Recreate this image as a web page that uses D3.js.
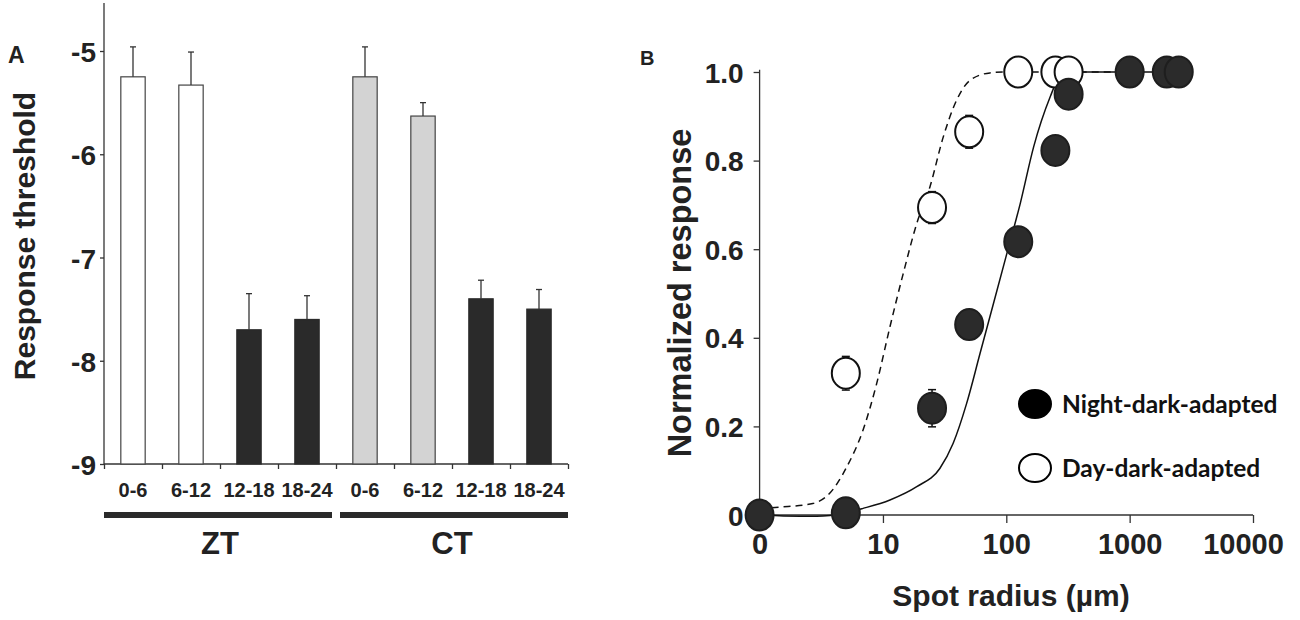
<!DOCTYPE html>
<html lang="en">
<head>
    <meta charset="UTF-8">
    <title>Response threshold and spot radius</title>
    <style>
        body { margin: 0; background: #fff; }
        svg { display: block; font-family: "Liberation Sans", Arial, sans-serif; }
        .axis path, .axis line { stroke: #333; stroke-width: 1.3; }
        .axis text { font-family: "Liberation Sans", Arial, sans-serif; font-weight: bold; fill: #222; }
        .title { font-weight: bold; fill: #222; }
        .legend text { font-family: Lato, "Open Sans", sans-serif; font-weight: bold; fill: #111; }
    </style>
</head>
<body>
    <script src="https://d3js.org/d3.v7.min.js"></script>
    <script>
        // panel A data
        const barLabels = ["0-6", "6-12", "12-18", "18-24", "0-6", "6-12", "12-18", "18-24"];
        const barValues = [-5.25, -5.33, -7.70, -7.60, -5.25, -5.63, -7.40, -7.50];
        const barErrTop = [-4.96, -5.01, -7.35, -7.37, -4.96, -5.50, -7.22, -7.31];
        const barFills = ["#ffffff", "#ffffff", "#2a2a2a", "#2a2a2a", "#d3d3d3", "#d3d3d3", "#2a2a2a", "#2a2a2a"];
        const groups = ["ZT", "CT"];
        const yTicksA = [-5, -6, -7, -8, -9];
        const yTickLabelsA = ["-5", "-6", "-7", "-8", "-9"];

        // panel B data
        const dayX = [5, 25, 50, 125, 250, 320];
        const dayY = [0.32, 0.694, 0.865, 1.0, 1.0, 1.0];
        const dayErr = [0.038, 0.036, 0.037, 0, 0, 0];
        const nightX = [1, 5, 25, 50, 125, 250, 320, 1000, 2000, 2500];
        const nightY = [0, 0.005, 0.241, 0.43, 0.617, 0.823, 0.95, 1.0, 1.0, 1.0];
        const nightErr = [0, 0, 0.042, 0, 0, 0, 0, 0, 0, 0];
        const dayFitX = [1, 1.5, 2.7, 3.7, 5.1, 6.9, 8.9, 11.4, 14.6, 18.8, 24, 30.8, 39.5, 50.7, 73.6, 100, 300, 1000];
        const dayFitY = [0.015, 0.018, 0.026, 0.049, 0.109, 0.192, 0.297, 0.425, 0.545, 0.658, 0.74, 0.853, 0.936, 0.981, 0.998, 1.0, 1.0, 1.0];
        const nightFitX = [1, 1.56, 2.9, 5, 6.9, 11.4, 18.8, 28.9, 37.1, 47.7, 61.3, 78.8, 101, 129.7, 166.6, 227, 270, 320, 2500];
        const nightFitY = [0, -0.002, -0.003, 0.005, 0.015, 0.034, 0.064, 0.105, 0.162, 0.252, 0.365, 0.478, 0.59, 0.703, 0.831, 0.944, 0.99, 1.0, 1.0];
        const xTicksB = [1, 10, 100, 1000, 10000];
        const xTickLabelsB = ["0", "10", "100", "1000", "10000"];
        const yTicksB = [0, 0.2, 0.4, 0.6, 0.8, 1.0];
        const yTickLabelsB = ["0", "0.2", "0.4", "0.6", "0.8", "1.0"];
        const legendLabels = ["Night-dark-adapted", "Day-dark-adapted"];

        const svg = d3.select("body").append("svg")
            .attr("width", 1300)
            .attr("height", 620);

        // ---------- Panel A ----------
        const gA = svg.append("g");

        const yA = d3.scaleLinear().domain([-9, -4.535]).range([464, 3]);
        const xA = d3.scaleBand().domain(d3.range(barLabels.length))
            .range([104, 568]).paddingInner(0.58).paddingOuter(0.29);
        const xEdge = d3.scaleLinear().domain([0, barLabels.length]).range([104, 568]);

        // y axis (tick marks from the axis, labels drawn separately)
        const yAxisA = gA.append("g").attr("class", "axis")
            .attr("transform", "translate(104,0)")
            .call(d3.axisLeft(yA).tickValues(yTicksA).tickSize(4).tickFormat(""));
        yAxisA.select(".domain").attr("d", `M0,${yA(-4.535)}V${yA(-9)}`);
        gA.selectAll("text.ytick")
            .data(yTicksA)
            .join("text")
            .attr("class", "title ytick")
            .attr("x", 96)
            .attr("y", d => yA(d))
            .attr("dy", "0.4em")
            .attr("text-anchor", "end")
            .attr("font-size", 28)
            .text((d, i) => yTickLabelsA[i]);

        // x axis with ticks at category edges
        const xAxisA = gA.append("g").attr("class", "axis")
            .attr("transform", `translate(0,${yA(-9)})`)
            .call(d3.axisBottom(xEdge).tickValues(d3.range(barLabels.length + 1)).tickSize(5).tickFormat(""));
        xAxisA.select(".domain").attr("d", `M${xEdge(0)},0H${xEdge(barLabels.length)}`);

        // bars
        gA.selectAll("rect.bar")
            .data(barValues)
            .join("rect")
            .attr("class", "bar")
            .attr("x", (d, i) => xA(i))
            .attr("width", xA.bandwidth())
            .attr("y", d => yA(d))
            .attr("height", d => yA(-9) - yA(d))
            .attr("fill", (d, i) => barFills[i])
            .attr("stroke", (d, i) => barFills[i] === "#2a2a2a" ? "#2a2a2a" : "#444")
            .attr("stroke-width", 1.2);

        // error bars
        const errA = gA.selectAll("g.err")
            .data(barValues)
            .join("g")
            .attr("class", "err")
            .attr("stroke", "#333")
            .attr("stroke-width", 1.3);
        errA.append("line")
            .attr("x1", (d, i) => xA(i) + xA.bandwidth() / 2)
            .attr("x2", (d, i) => xA(i) + xA.bandwidth() / 2)
            .attr("y1", d => yA(d))
            .attr("y2", (d, i) => yA(barErrTop[i]));
        errA.append("line")
            .attr("x1", (d, i) => xA(i) + xA.bandwidth() / 2 - 3)
            .attr("x2", (d, i) => xA(i) + xA.bandwidth() / 2 + 3)
            .attr("y1", (d, i) => yA(barErrTop[i]))
            .attr("y2", (d, i) => yA(barErrTop[i]));

        // category labels
        gA.selectAll("text.cat")
            .data(barLabels)
            .join("text")
            .attr("class", "title cat")
            .attr("x", (d, i) => xA(i) + xA.bandwidth() / 2)
            .attr("y", 497)
            .attr("text-anchor", "middle")
            .attr("font-size", 20)
            .text(d => d);

        // group bars and labels
        const half = barLabels.length / 2;
        gA.selectAll("rect.grp")
            .data(groups)
            .join("rect")
            .attr("class", "grp")
            .attr("x", (d, i) => i === 0 ? xEdge(0) : xEdge(half) + 4)
            .attr("width", (d, i) => i === 0 ? xEdge(half) - 4 - xEdge(0) : xEdge(2 * half) - xEdge(half) - 4)
            .attr("y", 512)
            .attr("height", 6)
            .attr("fill", "#2a2a2a");
        gA.selectAll("text.grp")
            .data(groups)
            .join("text")
            .attr("class", "title grp")
            .attr("x", (d, i) => (xEdge(i * half) + xEdge((i + 1) * half)) / 2)
            .attr("y", 554)
            .attr("text-anchor", "middle")
            .attr("font-size", 31)
            .text(d => d);

        gA.append("text").attr("class", "title")
            .attr("transform", "translate(35,236) rotate(-90)")
            .attr("text-anchor", "middle")
            .attr("font-size", 30)
            .text("Response threshold");

        gA.append("text").attr("class", "title")
            .attr("x", 8).attr("y", 63)
            .attr("font-size", 23)
            .text("A");

        // ---------- Panel B ----------
        const gB = svg.append("g");

        const xB = d3.scaleLog().domain([1, 10000]).range([759.6, 1253]);
        const yB = d3.scaleLinear().domain([0, 1]).range([515, 72]);

        const yAxisB = gB.append("g").attr("class", "axis")
            .attr("transform", "translate(759.6,0)")
            .call(d3.axisLeft(yB).tickValues(yTicksB).tickSize(6).tickPadding(10)
                .tickFormat((d, i) => yTickLabelsB[i]));
        yAxisB.select(".domain").attr("d", `M0,${yB(1.005)}V${yB(0)}`).attr("stroke", "#111").attr("stroke-width", 1.5);
        yAxisB.selectAll(".tick text").style("font-size", "28px").attr("dy", "0.36em");

        const xAxisB = gB.append("g").attr("class", "axis")
            .attr("transform", `translate(0,${yB(0)})`)
            .call(d3.axisBottom(xB).tickValues(xTicksB).tickSize(8).tickPadding(10)
                .tickFormat((d, i) => xTickLabelsB[i]));
        xAxisB.select(".domain").attr("d", `M${xB(1)},0H${xB(10000)}`).attr("stroke", "#111").attr("stroke-width", 1.5);
        xAxisB.selectAll(".tick text")
            .style("font-size", "29px")
            .attr("dy", "0.71em")
            .attr("dx", (d, i) => i === xTicksB.length - 1 ? -10 : 0);

        // fitted curves
        const line = d3.line().curve(d3.curveMonotoneX)
            .x(d => xB(d[0])).y(d => yB(d[1]));
        gB.append("path")
            .datum(dayFitX.map((x, i) => [x, dayFitY[i]]))
            .attr("d", line)
            .attr("fill", "none")
            .attr("stroke", "#111")
            .attr("stroke-width", 1.5)
            .attr("stroke-dasharray", "7,5");
        gB.append("path")
            .datum(nightFitX.map((x, i) => [x, nightFitY[i]]))
            .attr("d", line)
            .attr("fill", "none")
            .attr("stroke", "#111")
            .attr("stroke-width", 1.5);

        // points with error bars
        function drawSeries(xs, ys, errs, fill, stroke) {
            const pts = xs.map((x, i) => ({ x: x, y: ys[i], e: errs[i] }));
            const g = gB.append("g");
            const eb = g.selectAll("g.eb").data(pts.filter(p => p.e > 0)).join("g")
                .attr("stroke", "#111").attr("stroke-width", 1.5);
            eb.append("line")
                .attr("x1", d => xB(d.x)).attr("x2", d => xB(d.x))
                .attr("y1", d => yB(d.y - d.e)).attr("y2", d => yB(d.y + d.e));
            [1, -1].forEach(s => {
                eb.append("line")
                    .attr("x1", d => xB(d.x) - 4).attr("x2", d => xB(d.x) + 4)
                    .attr("y1", d => yB(d.y + s * d.e)).attr("y2", d => yB(d.y + s * d.e));
            });
            g.selectAll("ellipse").data(pts).join("ellipse")
                .attr("cx", d => xB(d.x))
                .attr("cy", d => yB(d.y))
                .attr("rx", 14)
                .attr("ry", 15.5)
                .attr("fill", fill)
                .attr("stroke", stroke)
                .attr("stroke-width", 2);
        }
        drawSeries(dayX, dayY, dayErr, "#ffffff", "#111");
        drawSeries(nightX, nightY, nightErr, "#2b2b2b", "#1e1e1e");

        // legend
        const legend = gB.append("g").attr("class", "legend");
        const legY = [404, 468];
        legend.selectAll("ellipse").data(legendLabels).join("ellipse")
            .attr("cx", 1035)
            .attr("cy", (d, i) => legY[i])
            .attr("rx", 16)
            .attr("ry", 14)
            .attr("fill", (d, i) => i === 0 ? "#000" : "#fff")
            .attr("stroke", "#000")
            .attr("stroke-width", 2);
        legend.selectAll("text").data(legendLabels).join("text")
            .attr("x", 1062)
            .attr("y", (d, i) => legY[i] + 9)
            .attr("font-size", 24.5)
            .text(d => d);

        gB.append("text").attr("class", "title")
            .attr("transform", "translate(691,293) rotate(-90)")
            .attr("text-anchor", "middle")
            .attr("font-size", 32.5)
            .text("Normalized response");
        gB.append("text").attr("class", "title")
            .attr("x", 1011).attr("y", 606)
            .attr("text-anchor", "middle")
            .attr("font-size", 30)
            .text("Spot radius (µm)");
        gB.append("text").attr("class", "title")
            .attr("x", 640).attr("y", 65)
            .attr("font-size", 20)
            .text("B");
    </script>
</body>
</html>
